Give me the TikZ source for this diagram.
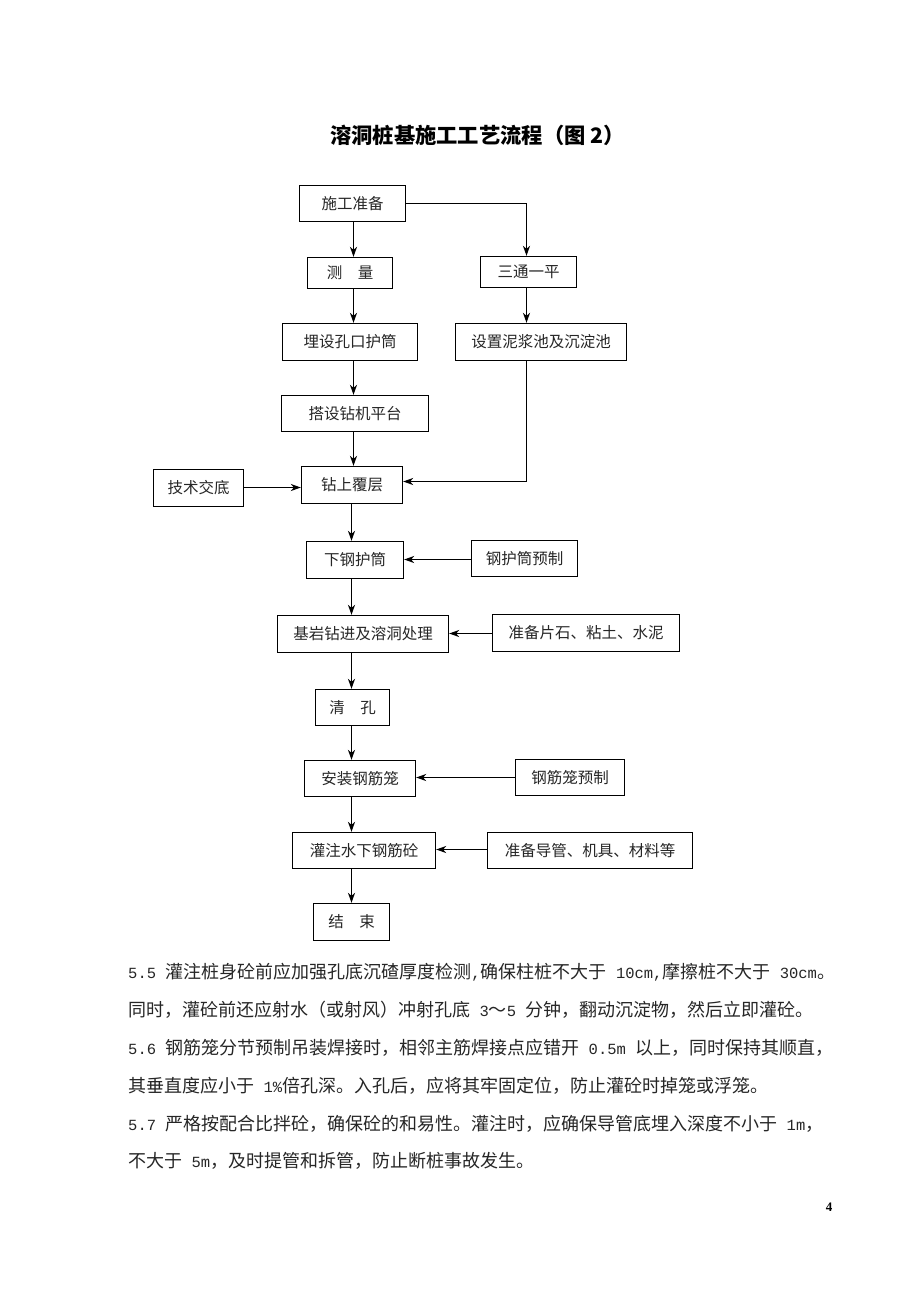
\documentclass[tikz,border=0pt]{standalone}
\usepackage{fontspec}
\setmainfont{Liberation Serif}
\newfontfamily\cjk{Noto Sans CJK SC}
\newfontfamily\latmono{Liberation Mono}
\newcommand\lat[1]{{\latmono\fontsize{15.5}{18}\selectfont #1}}
\usetikzlibrary{arrows.meta}
\tikzset{
  box/.style={draw=black, line width=1.3pt, inner sep=0pt, font=\cjk\fontsize{15.5}{18}\selectfont, text=black!85},
  arr/.style={line width=1.3pt, -{Stealth[length=10pt,width=7pt,inset=3pt]}},
  body/.style={anchor=west, inner sep=0pt, font=\cjk\fontsize{18}{21}\selectfont, text=black!85}
}
\begin{document}
\begin{tikzpicture}[x=1pt,y=-1pt]
\useasboundingbox[fill=white] (0,0) rectangle (920,1302);
% title
\node[inner sep=0pt, font=\cjk\bfseries\fontsize{21.3}{24}\selectfont] (title) at (477.5,135) {溶洞桩基施工工艺流程（图 2）};
% boxes
\node[box, minimum width=106pt, minimum height=36pt] (prep) at (352.5,203.5) {施工准备};
\node[box, minimum width=85pt, minimum height=31pt] (meas) at (350,273) {测　量};
\node[box, minimum width=96pt, minimum height=31pt] (stp) at (528.5,272) {三通一平};
\node[box, minimum width=135pt, minimum height=37pt] (bury) at (350,342) {埋设孔口护筒};
\node[box, minimum width=171pt, minimum height=37pt] (pond) at (541,342) {设置泥浆池及沉淀池};
\node[box, minimum width=147pt, minimum height=36pt] (plat) at (355,413.5) {搭设钻机平台};
\node[box, minimum width=90pt, minimum height=37pt] (tech) at (198.5,488) {技术交底};
\node[box, minimum width=101pt, minimum height=37pt] (drill) at (352,485) {钻上覆层};
\node[box, minimum width=97pt, minimum height=37pt] (casing) at (355,560) {下钢护筒};
\node[box, minimum width=106pt, minimum height=36pt] (casingpre) at (524.5,558.5) {钢护筒预制};
\node[box, minimum width=171pt, minimum height=37pt] (rock) at (363,634) {基岩钻进及溶洞处理};
\node[box, minimum width=187pt, minimum height=37pt] (mat) at (586,633) {准备片石、粘土、水泥};
\node[box, minimum width=74pt, minimum height=36pt] (clean) at (352.5,707.5) {清　孔};
\node[box, minimum width=111pt, minimum height=36pt] (cage) at (360,778.5) {安装钢筋笼};
\node[box, minimum width=109pt, minimum height=36pt] (cagepre) at (570,777.5) {钢筋笼预制};
\node[box, minimum width=143pt, minimum height=36pt] (pour) at (364,850.5) {灌注水下钢筋砼};
\node[box, minimum width=205pt, minimum height=36pt] (tools) at (590,850.5) {准备导管、机具、材料等};
\node[box, minimum width=76pt, minimum height=37pt] (fin) at (351.5,922) {结　束};
% column coordinates
\coordinate (ca) at (353.5,0);
\coordinate (cb) at (351.5,0);
\coordinate (rc) at (526.5,0);
% vertical arrows
\draw[arr] (prep.south -| ca) -- (meas.north -| ca);
\draw[arr] (meas.south -| ca) -- (bury.north -| ca);
\draw[arr] (bury.south -| ca) -- (plat.north -| ca);
\draw[arr] (plat.south -| ca) -- (drill.north -| ca);
\draw[arr] (drill.south -| cb) -- (casing.north -| cb);
\draw[arr] (casing.south -| cb) -- (rock.north -| cb);
\draw[arr] (rock.south -| cb) -- (clean.north -| cb);
\draw[arr] (clean.south -| cb) -- (cage.north -| cb);
\draw[arr] (cage.south -| cb) -- (pour.north -| cb);
\draw[arr] (pour.south -| cb) -- (fin.north -| cb);
% right branch
\draw[arr] (prep.east) -| (stp.north -| rc);
\draw[arr] (stp.south -| rc) -- (pond.north -| rc);
\draw[arr] (pond.south -| rc) |- ([yshift=3.5pt]drill.east);
% horizontal arrows
\draw[arr] ([yshift=0.5pt]tech.east) -- ([yshift=0.5pt]drill.west |- tech.east);
\draw[arr] ([yshift=-1pt]casingpre.west) -- ([yshift=-1pt]casing.east |- casingpre.west);
\draw[arr] ([yshift=-0.5pt]mat.west) -- ([yshift=-0.5pt]rock.east |- mat.west);
\draw[arr] (cagepre.west) -- (cage.east |- cagepre.west);
\draw[arr] ([yshift=1pt]tools.west) -- ([yshift=1pt]pour.east |- tools.west);
% body text
\node[body] (l1) at (128,972) {\lat{5.5 }灌注桩身砼前应加强孔底沉碴厚度检测\lat{,}确保柱桩不大于\lat{ 10cm,}摩擦桩不大于\lat{ 30cm}。};
\node[body] (l2) at (128,1010) {同时，灌砼前还应射水（或射风）冲射孔底\lat{ 3}～\lat{5 }分钟，翻动沉淀物，然后立即灌砼。};
\node[body] (l3) at (128,1048) {\lat{5.6 }钢筋笼分节预制吊装焊接时，相邻主筋焊接点应错开\lat{ 0.5m }以上，同时保持其顺直，};
\node[body] (l4) at (128,1086) {其垂直度应小于\lat{ 1\%}倍孔深。入孔后，应将其牢固定位，防止灌砼时掉笼或浮笼。};
\node[body] (l5) at (128,1124) {\lat{5.7 }严格按配合比拌砼，确保砼的和易性。灌注时，应确保导管底埋入深度不小于\lat{ 1m}，};
\node[body] (l6) at (128,1161) {不大于\lat{ 5m}，及时提管和拆管，防止断桩事故发生。};
% page number
\node[inner sep=0pt, font=\bfseries\fontsize{13}{15}\selectfont] (pg) at (829,1207) {4};
\end{tikzpicture}
\end{document}
